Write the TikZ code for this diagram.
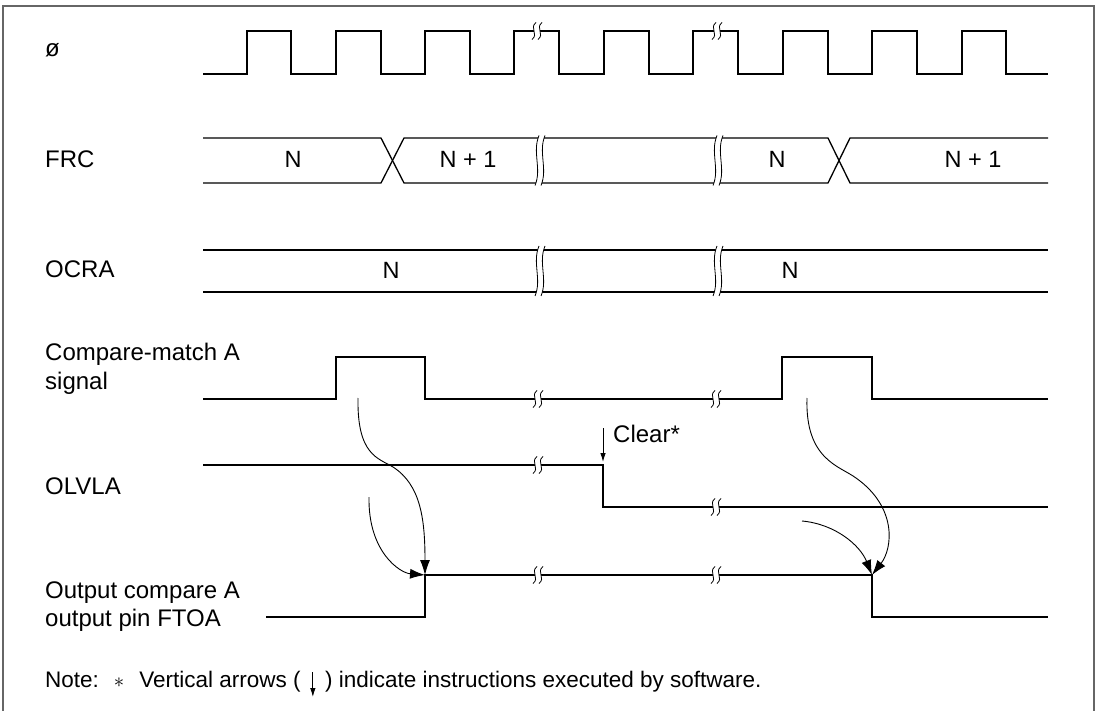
\documentclass[tikz,border=0pt]{standalone}
\usepackage{fontspec}
\setmainfont{Liberation Sans}
\usetikzlibrary{arrows.meta}
\tikzset{
  sig/.style={line width=1.3pt, line join=miter},
  lbl/.style={anchor=base west, inner sep=0pt, font=\fontsize{24}{28}\selectfont},
  notetxt/.style={anchor=base west, inner sep=0pt, font=\fontsize{22.5}{28}\selectfont},
  val/.style={anchor=base, inner sep=0pt, font=\fontsize{23.5}{28}\selectfont},
  cause/.style={line width=0.9pt, -{Latex[length=15pt,width=10pt]}},
  soft/.style={line width=0.9pt, -{Latex[length=9pt,width=5.5pt]}},
  brkline/.style={line width=0.8pt},
  frame/.style={line width=1.5pt, black!60},
}
% break mark: x, y, half height
\newcommand{\tbreak}[3]{%
  \fill[white] (#1-1,#2-#3) .. controls (#1-8,#2-#3/3) and (#1+2,#2+#3/3) .. (#1-5,#2+#3)
     -- (#1+1,#2+#3) .. controls (#1+8,#2+#3/3) and (#1-2,#2-#3/3) .. (#1+5,#2-#3) -- cycle;
  \draw[brkline] (#1-1,#2-#3) .. controls (#1-8,#2-#3/3) and (#1+2,#2+#3/3) .. (#1-5,#2+#3);
  \draw[brkline] (#1+5,#2-#3) .. controls (#1-2,#2-#3/3) and (#1+8,#2+#3/3) .. (#1+1,#2+#3);
}
\begin{document}
\begin{tikzpicture}[x=1pt,y=-1pt]
\useasboundingbox (0,0) rectangle (1098,711);
\draw[frame] (3,6) rectangle (1094,720);

% labels
\node[lbl] (lphi) at (45,57) {ø};
\node[lbl] (lfrc) at (45,168) {FRC};
\node[lbl] (locra) at (45,278) {OCRA};
\node[lbl] (lcm1) at (45,361) {Compare-match A};
\node[lbl] (lcm2) at (45,389) {signal};
\node[lbl] (lolv) at (45,494) {OLVLA};
\node[lbl] (lout1) at (45,598) {Output compare A};
\node[lbl] (lout2) at (45,626) {output pin FTOA};

% clock
\draw[sig] (203,74) -- (247,74) -- (247,31) -- (291,31) -- (291,74) -- (336,74) -- (336,31)
  -- (381,31) -- (381,74) -- (425,74) -- (425,31) -- (470,31) -- (470,74) -- (514,74)
  -- (514,31) -- (559,31) -- (559,74) -- (604,74) -- (604,31) -- (649,31) -- (649,74)
  -- (693,74) -- (693,31) -- (738,31) -- (738,74) -- (783,74) -- (783,31) -- (828,31)
  -- (828,74) -- (872,74) -- (872,31) -- (917,31) -- (917,74) -- (962,74) -- (962,31)
  -- (1006,31) -- (1006,74) -- (1048,74);
\tbreak{537}{31}{8.5}
\tbreak{717}{31}{8.5}

% FRC
\draw[sig] (203,138) -- (381,138) -- (404,183) -- (828,183) -- (850,138) -- (1048,138);
\draw[sig] (203,183) -- (381,183) -- (404,138) -- (828,138) -- (850,183) -- (1048,183);
\tbreak{540}{160.5}{25}
\tbreak{718}{160.5}{25}
\node[val] (frc1) at (293,168) {N};
\node[val] (frc2) at (468,168) {N + 1};
\node[val] (frc3) at (777,168) {N};
\node[val] (frc4) at (973,168) {N + 1};

% OCRA
\draw[sig] (203,250) -- (1048,250);
\draw[sig] (203,292) -- (1048,292);
\tbreak{540}{271}{25}
\tbreak{718}{271}{25}
\node[val] (ocr1) at (391,279) {N};
\node[val] (ocr2) at (790,279) {N};

% compare-match A
\draw[sig] (203,399) -- (336,399) -- (336,357) -- (425,357) -- (425,399) -- (782,399)
  -- (782,357) -- (872,357) -- (872,399) -- (1048,399);
\tbreak{538}{399}{8.5}
\tbreak{716}{399}{8.5}

% OLVLA
\draw[sig] (203,465) -- (603,465) -- (603,507) -- (1048,507);
\tbreak{538}{465}{8.5}
\tbreak{716}{507}{8.5}
\coordinate (clrT) at (603,428);
\coordinate (clrB) at (603,462);
\draw[soft] (clrT) -- (clrB);
\node[lbl] (clr) at (613,442) {Clear*};

% output FTOA
\draw[sig] (266,617) -- (425,617) -- (425,575) -- (872,575) -- (872,617) -- (1048,617);
\tbreak{538}{575}{8.5}
\tbreak{716}{575}{8.5}

% causal arrows
\coordinate (cm1) at (358,398);
\coordinate (ol1) at (369,497);
\coordinate (fto1) at (425,575);
\coordinate (cm2) at (807,398);
\coordinate (ol2) at (802,521);
\coordinate (fto2) at (872,575);
\draw[cause] (cm1) .. controls (357,455) and (378,458) .. (393,467)
  .. controls (421,485) and (425,520) .. (fto1);
\draw[cause] (ol1) .. controls (368,552) and (400,573) .. (fto1);
\draw[cause] (cm2) .. controls (805,460) and (840,466) .. (856,478)
  .. controls (897,507) and (893,548) .. (fto2);
\draw[cause] (ol2) .. controls (835,524) and (860,545) .. (fto2);

% note
\node[notetxt] (note1) at (45,687) {Note:\hspace{15pt}$\ast$\hspace{15pt}Vertical arrows (};
\node[notetxt] (note2) at ([xshift=24pt]note1.base east) {) indicate instructions executed by software.};
\draw[soft] ([xshift=12pt,yshift=15pt]note1.base east) -- ([xshift=12pt,yshift=-10pt]note1.base east);
\end{tikzpicture}
\end{document}
